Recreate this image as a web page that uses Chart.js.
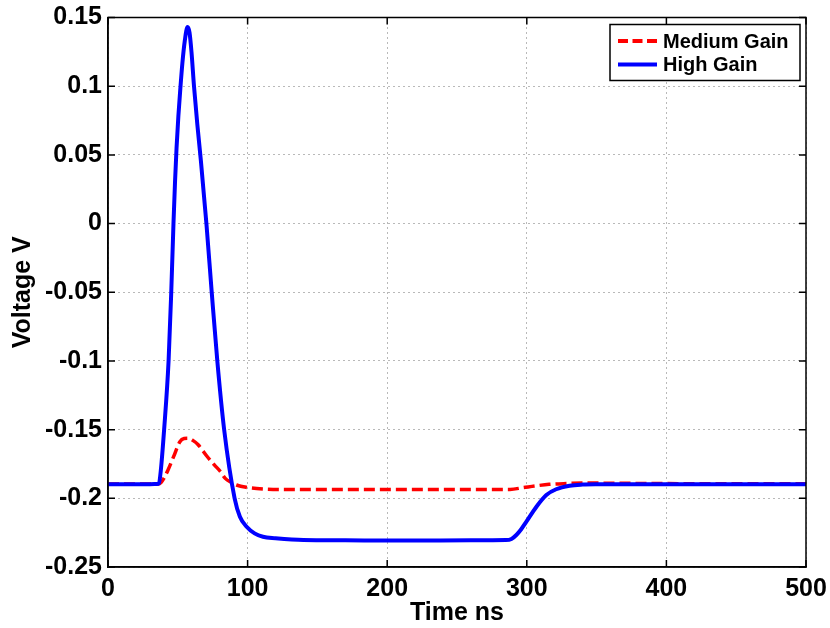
<!DOCTYPE html>
<html>
<head>
<meta charset="utf-8">
<script src="https://cdn.jsdelivr.net/npm/chart.js@4.4.1/dist/chart.umd.min.js"></script>
<style>
html, body { margin: 0; padding: 0; background: #fff; }
</style>
</head>
<body>
<canvas id="chart" width="830" height="628"></canvas>
<script>
// Tempo em ns, tensão em V
const seriesNames = ['Medium Gain', 'High Gain'];

const highTime = [0, 10, 20, 30, 35, 36.5, 37.8, 40.2, 43.4, 45.3, 46.9, 48.0, 49.1, 50.4, 51.8, 53.3, 55, 57, 58.4, 59.8, 61.6,
    64, 66.6, 70.5, 74.3, 78.3, 83.2, 90.7, 94.5, 99.3, 105, 111, 120, 140, 170, 200, 230, 260, 285,
    289, 292.5, 296, 299.7, 306.9, 314, 321, 330.7, 340, 350, 400, 450, 500];
const highVolt = [-0.1897, -0.1897, -0.1898, -0.1897, -0.1896, -0.189, -0.18, -0.15, -0.1, -0.05, 0, 0.03, 0.055, 0.078, 0.098, 0.117, 0.133, 0.143, 0.139, 0.125, 0.1,
    0.072, 0.045, 0, -0.05, -0.1, -0.15, -0.2, -0.2134, -0.2207, -0.2255, -0.228, -0.229, -0.2303, -0.2305, -0.2308, -0.2307, -0.2306, -0.2304,
    -0.2296, -0.2267, -0.2225, -0.217, -0.2061, -0.1976, -0.1934, -0.1908, -0.19, -0.1898, -0.1897, -0.1897, -0.1897];

const medTime = [0, 10, 20, 30, 36, 38, 40, 43, 47, 51.5, 54.5, 57.5, 61, 64.6, 70.6, 76, 80.5, 84, 88, 92, 99, 111,
    130, 170, 200, 250, 288, 297, 306, 316, 330, 340, 400, 450, 500];
const medVolt = [-0.1895, -0.1895, -0.1895, -0.1895, -0.1895, -0.1885, -0.1855, -0.1794, -0.1697, -0.1588, -0.1565, -0.1563, -0.158, -0.161, -0.169, -0.1755, -0.1805, -0.1855, -0.1883, -0.1903, -0.192, -0.1932,
    -0.1936, -0.1936, -0.1936, -0.1935, -0.1935, -0.1923, -0.191, -0.1898, -0.1892, -0.1889, -0.1893, -0.1894, -0.1894];

const xTickValues = [0, 100, 200, 300, 400, 500];
const xTickLabels = ['0', '100', '200', '300', '400', '500'];
const yTickValues = [-0.25, -0.2, -0.15, -0.1, -0.05, 0, 0.05, 0.1, 0.15];
const yTickLabels = ['-0.25', '-0.2', '-0.15', '-0.1', '-0.05', '0', '0.05', '0.1', '0.15'];

const toPoints = (xs, ys) => xs.map((t, i) => ({ x: t, y: ys[i] }));

Chart.defaults.color = '#000';
Chart.defaults.font.family = '"Liberation Sans", Arial, Helvetica, sans-serif';

const fonteBold = { size: 25, weight: 'bold' };

// caixa do eixo com marcas para dentro (estilo MATLAB)
const caixaPlugin = {
    id: 'caixa',
    afterDatasetsDraw(chart) {
        const { ctx, chartArea: a, scales: { x, y } } = chart;
        ctx.save();
        ctx.strokeStyle = '#000';
        ctx.lineWidth = 1.5;
        ctx.beginPath();
        xTickValues.forEach(v => {
            const px = x.getPixelForValue(v);
            ctx.moveTo(px, a.bottom); ctx.lineTo(px, a.bottom - 7);
            ctx.moveTo(px, a.top); ctx.lineTo(px, a.top + 7);
        });
        yTickValues.forEach(v => {
            const py = y.getPixelForValue(v);
            ctx.moveTo(a.left, py); ctx.lineTo(a.left + 7, py);
            ctx.moveTo(a.right, py); ctx.lineTo(a.right - 7, py);
        });
        ctx.stroke();
        ctx.strokeRect(a.left, a.top, a.right - a.left, a.bottom - a.top);
        ctx.restore();
    }
};

// legenda dentro da área do gráfico, canto superior direito
const legendaPlugin = {
    id: 'legenda',
    afterDraw(chart) {
        const ctx = chart.ctx;
        const a = chart.chartArea;
        const bx = a.right - 196, by = a.top + 7, bw = 190, bh = 56;
        ctx.save();
        ctx.fillStyle = '#fff';
        ctx.fillRect(bx, by, bw, bh);
        ctx.strokeStyle = '#000';
        ctx.lineWidth = 1.5;
        ctx.strokeRect(bx, by, bw, bh);
        const rows = [
            { name: seriesNames[0], color: '#ff0000', dash: [10, 4.5], y: by + 16.5 },
            { name: seriesNames[1], color: '#0000ff', dash: [], y: by + 40 }
        ];
        rows.forEach(r => {
            ctx.beginPath();
            ctx.setLineDash(r.dash);
            ctx.strokeStyle = r.color;
            ctx.lineWidth = 4;
            ctx.moveTo(bx + 8, r.y);
            ctx.lineTo(bx + 47, r.y);
            ctx.stroke();
            ctx.setLineDash([]);
            ctx.fillStyle = '#000';
            ctx.font = 'bold 20px "Liberation Sans", Arial, sans-serif';
            ctx.textBaseline = 'middle';
            ctx.fillText(r.name, bx + 53, r.y + 1);
        });
        ctx.restore();
    }
};

const ctx = document.getElementById('chart').getContext('2d');
const grafico = new Chart(ctx, {
    type: 'line',
    data: {
        datasets: [{
            label: seriesNames[0],
            data: toPoints(medTime, medVolt),
            borderColor: '#ff0000',
            borderWidth: 3.5,
            borderDash: [11, 5],
            pointRadius: 0,
            cubicInterpolationMode: 'monotone',
            order: 2
        }, {
            label: seriesNames[1],
            data: toPoints(highTime, highVolt),
            borderColor: '#0000ff',
            borderWidth: 4,
            pointRadius: 0,
            cubicInterpolationMode: 'monotone',
            order: 1
        }]
    },
    options: {
        responsive: false,
        animation: false,
        layout: { padding: { left: 0, right: 24, top: 17.5, bottom: 0 } },
        plugins: {
            legend: { display: false },
            tooltip: { enabled: false }
        },
        scales: {
            x: {
                type: 'linear',
                min: 0,
                max: 500,
                afterBuildTicks: s => { s.ticks = xTickValues.map(v => ({ value: v })); },
                afterFit: s => { s.height = 61; s.paddingLeft = 0; s.paddingRight = 0; },
                ticks: {
                    font: fonteBold,
                    padding: 7,
                    maxRotation: 0,
                    callback: (v, i) => xTickLabels[i]
                },
                grid: { color: 'rgba(0,0,0,0.55)', lineWidth: 1, drawTicks: false },
                border: { display: true, color: '#000', width: 1.5, dash: [1, 4] },
                title: { display: true, text: 'Time ns', font: fonteBold, padding: { top: 0, bottom: 0 } }
            },
            y: {
                type: 'linear',
                min: -0.25,
                max: 0.15,
                afterBuildTicks: s => { s.ticks = yTickValues.map(v => ({ value: v })); },
                afterFit: s => { s.width = 108; s.paddingTop = 0; s.paddingBottom = 0; },
                ticks: {
                    font: fonteBold,
                    padding: 6,
                    callback: (v, i) => yTickLabels[i]
                },
                grid: { color: 'rgba(0,0,0,0.55)', lineWidth: 1, drawTicks: false },
                border: { display: true, color: '#000', width: 1.5, dash: [1, 4] },
                title: { display: true, text: 'Voltage V', font: fonteBold, padding: { top: 8, bottom: 0 } }
            }
        }
    },
    plugins: [caixaPlugin, legendaPlugin]
});
</script>
</body>
</html>
